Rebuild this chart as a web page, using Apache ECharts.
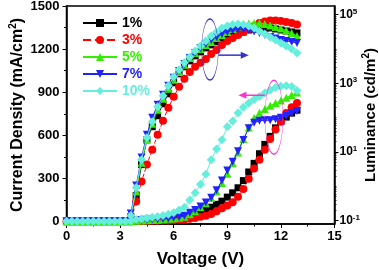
<!DOCTYPE html>
<html><head><meta charset="utf-8">
<script src="https://cdn.jsdelivr.net/npm/echarts@6/dist/echarts.min.js"></script>
<style>html,body{margin:0;padding:0;background:#fff}#c{width:379px;height:270px}</style>
</head><body><div id="c"></div>
<script>
// Voltage (V)
const xV = [0,0.3,0.6,0.9,1.2,1.5,1.8,2.1,2.4,2.7,3.0,3.3,3.6,3.9,4.2,4.5,4.8,5.1,5.4,5.7,6.0,6.3,6.6,6.9,7.2,7.5,7.8,8.1,8.4,8.7,9.0,9.3,9.6,9.9,10.2,10.5,10.8,11.1,11.4,11.7,12.0,12.3,12.6,12.9];
const seriesNames = ['1%','3%','5%','7%','10%'];
// Current density (mA/cm2), left axis
const J_1 = [1,1,1,1,1,1,1,1,1,1,1,2,2, 4,5,6,8,10,12,15,18,22,27,33,44,64,82,100,120,142,170,200,235,285,345,405,472,537,593,652,696,727,755,775];
const J_3 = [0,0,0,0,0,0,0,0,0,0,0,1,1, 2,3,4,5,6,7,8,10,12,15,19,25,33,41,52,71,93,112,135,173,226,298,370,430,500,575,640,695,756,795,825];
const J_5 = [1,1,1,1,1,1,1,1,1,1,1,2,2, 5,7,9,11,13,16,19,22,27,33,50,72,100,128,164,210,268,333,407,481,575,655,720,757,783,806,825,843,862,880,898];
const J_7 = [2,2,2,2,2,2,2,2,2,2,2,2,3, 8,10,12,14,16,19,22,26,30,40,62,80,105,133,165,217,285,355,417,490,568,650,688,702,705,705,712,722,735,752,770];
const J_10 = [3,3,3,3,3,3,3,3,3,3,3,3,4, 15,20,25,30,35,42,50,62,80,100,150,200,260,330,430,505,570,660,700,755,795,825,850,870,895,915,932,942,945,940,912];
// Luminance (cd/m2), right log axis (no emission below turn-on)
const L_1 = [null,null,null,null,null,null,null,null,null,null,null,null, 0.13,0.53,4.25,22.6,54,113,252,492,1030,1880,3000,4480,6270,8180,10700,13100,16000,18300,20900,23900,27300,31200,35600,38100,40800,40800,40800,38100,35600,33400,31200,29200];
const L_3 = [null,null,null,null,null,null,null,null,null,null,null,null, 0.12,0.36,1.36,4.25,11.6,31.6,80.7,193,403,785,1340,2140,3000,3920,5120,7160,9350,13100,17100,20900,25500,31200,38100,46700,57000,63000,67300,67300,65100,61000,57000,51500];
const L_5 = [null,null,null,null,null,null,null,null,null,null,null,null, 0.14,0.70,4.85,22.6,66,169,352,687,1260,2140,3430,5470,7650,10000,13100,16000,20900,25500,31200,38100,45100,51500,55100,57000,57000,53300,48200,43600,39400,34500,29200,23900];
const L_7 = [null,null,null,null,null,null,null,null,null,null,null,null, 0.16,1.04,6.8,31.6,98.6,235,460,840,1440,2290,3660,5470,7650,10700,14000,18300,22300,27300,31200,34500,36900,36900,35600,32300,29200,25500,22300,20200,18300,17100,16000,14900];
const L_10 = [null,null,null,null,null,null,null,null,null,null,null,null, 0.14,0.91,5.9,25.9,75.5,206,430,840,1535,2450,3920,5850,8750,12200,17100,23900,31200,40800,46700,51500,53300,51500,46700,40800,33400,27300,22300,18300,14900,12200,10000,7650];
// Tick labels
const xTicks = [0,3,6,9,12,15];
const jTicks = [0,300,600,900,1200,1500];
const jMinor = [150,450,750,1050,1350];
const lumTicks = [0.1,10,1000,100000];
const lumMinor = [0.2,0.3,0.4,0.5,0.6,0.7,0.8,0.9,1,2,3,4,5,6,7,8,9,10,20,30,40,50,60,70,80,90,100,200,300,400,500,600,700,800,900,1000,2000,3000,4000,5000,6000,7000,8000,9000,10000,20000,30000,40000,50000,60000,70000,80000,90000];

const Jdata = [J_1,J_3,J_5,J_7,J_10];
const Ldata = [L_1,L_3,L_5,L_7,L_10];
const colors = ['#000000','#ff0000','#33ee00','#2222ff','#66eedd'];
const symbols = ['rect','circle','triangle','triangle','diamond'];
const rots = [0,0,0,180,0];
const sizes = [7,8,8,8,9];
const FONT = '"Liberation Sans", Arial, sans-serif';

function pairs(arr){ const out=[]; arr.forEach((v,k)=>{ if(v!==null) out.push([xV[k], v]); }); return out; }

const series = [];
for (let i=0;i<5;i++){
  series.push({
    name: seriesNames[i], type:'line', xAxisIndex:0, yAxisIndex:1,
    data: pairs(Ldata[i]), symbol: symbols[i], symbolRotate: rots[i], symbolSize: sizes[i],
    itemStyle:{color:colors[i]}, lineStyle:{color:colors[i], width:1, type: i===1?'dashed':'solid'},
    animation:false, z: 2+i
  });
}
for (let i=0;i<5;i++){
  series.push({
    name: seriesNames[i], type:'line', xAxisIndex:0, yAxisIndex:0,
    data: pairs(Jdata[i]), symbol: symbols[i], symbolRotate: rots[i], symbolSize: sizes[i],
    itemStyle:{color:colors[i]}, lineStyle:{color:colors[i], width:1, type: i===1?'dashed':'solid'},
    animation:false, z: 2+i
  });
}

const supRich = {
  b:{fontSize:12, fontWeight:'bold', fontFamily:FONT, color:'#000'},
  s:{fontSize:8, fontWeight:'bold', fontFamily:FONT, color:'#000', verticalAlign:'top', padding:[0,0,6,0]}
};
const nameRich = {
  s:{fontSize:10, fontWeight:'bold', fontFamily:FONT, color:'#000', verticalAlign:'top', padding:[0,0,8,0]}
};

const chart = echarts.init(document.getElementById('c'), null, {renderer:'canvas'});
const axisLineStyle = {color:'#000', width:1.5};
chart.setOption({
  animation:false,
  backgroundColor:'#fff',
  grid:{left:66.5, right:44.5, top:6, bottom:46, show:true, borderColor:'#000', borderWidth:1.5,
    backgroundColor:'transparent', containLabel:false, outerBoundsMode:'none'},
  legend:{
    orient:'vertical', left:77, top:11, itemWidth:34, itemHeight:10, itemGap:3,
    selectedMode:false,
    textStyle:{fontFamily:FONT, fontWeight:'bold', fontSize:14},
    data: seriesNames.map((n,i)=>({name:n, textStyle:{color:colors[i]}}))
  },
  xAxis:[{
    type:'value', min:0, max:15, interval:3,
    axisLine:{show:true, onZero:false, lineStyle:axisLineStyle},
    axisTick:{show:true, length:4, lineStyle:{color:'#000', width:1}},
    minorTick:{show:true, splitNumber:2, length:2.5, lineStyle:{color:'#000', width:1}},
    splitLine:{show:false},
    axisLabel:{fontFamily:FONT, fontWeight:'bold', fontSize:13, color:'#000', margin:6,
      customValues: xTicks, formatter: v => String(v)},
    name:'Voltage (V)', nameLocation:'middle', nameGap:27, nameMoveOverlap:false,
    nameTextStyle:{fontFamily:FONT, fontWeight:'bold', fontSize:17, color:'#000'}
  }],
  yAxis:[{
    type:'value', min:-17, max:1500, position:'left',
    axisLine:{show:true, lineStyle:axisLineStyle},
    axisTick:{show:true, length:4, customValues: jTicks, lineStyle:{color:'#000', width:1}},
    splitLine:{show:false},
    axisLabel:{fontFamily:FONT, fontWeight:'bold', fontSize:13, color:'#000', margin:7,
      customValues: jTicks, formatter: v => String(v)},
    name:'Current Density (mA/cm{s|2})', nameLocation:'middle', nameGap:40, nameMoveOverlap:false,
    nameTextStyle:{fontFamily:FONT, fontWeight:'bold', fontSize:16, color:'#000', rich:nameRich}
  },{
    type:'log', logBase:10, min:0.079, max:178000, position:'right',
    axisLine:{show:true, lineStyle:axisLineStyle},
    axisTick:{show:true, length:4, customValues: lumTicks, lineStyle:{color:'#000', width:1}},
    splitLine:{show:false},
    axisLabel:{margin:5, customValues: lumTicks,
      formatter: v => '{b|10}{s|' + Math.round(Math.log10(v)) + '}', rich: supRich},
    name:'Luminance (cd/m{s|2})', nameLocation:'middle', nameGap:27, nameMoveOverlap:false,
    nameTextStyle:{fontFamily:FONT, fontWeight:'bold', fontSize:15, color:'#000', rich:nameRich}
  },{
    type:'value', min:-17, max:1500, position:'left',
    axisLine:{show:false}, splitLine:{show:false}, axisLabel:{show:false},
    axisTick:{show:true, length:2.5, customValues: jMinor, lineStyle:{color:'#000', width:1}}
  },{
    type:'log', logBase:10, min:0.079, max:178000, position:'right',
    axisLine:{show:false}, splitLine:{show:false}, axisLabel:{show:false},
    axisTick:{show:true, length:2, customValues: lumMinor, lineStyle:{color:'#000', width:0.8}}
  }],
  series: series
});

// annotations (ellipses + arrows), placed in data coordinates of the left axis
function px(x,y){ return chart.convertToPixel({xAxisIndex:0, yAxisIndex:0}, [x,y]); }
function ellipse(c, rx, ry, color){
  return {type:'circle', x:c[0], y:c[1], scaleX: rx/ry, scaleY:1, shape:{cx:0, cy:0, r:ry},
    style:{fill:'none', stroke:color, lineWidth:1.5, strokeNoScale:true}, z:20};
}
function arrow(p0, p1, color){
  const dir = p1[0] > p0[0] ? 1 : -1;
  const hx = p1[0], hy = p1[1];
  return [
    {type:'line', shape:{x1:p0[0], y1:p0[1], x2:hx - dir*5, y2:hy}, style:{stroke:color, lineWidth:1.5}, z:20},
    {type:'polygon', shape:{points:[[hx,hy],[hx-dir*8,hy-3.5],[hx-dir*8,hy+3.5]]}, style:{fill:color}, z:20}
  ];
}
const blue = '#3333cc', mag = '#ff33cc';
const g = [];
g.push(ellipse(px(8.03,1197), 8.3, 30.5, blue));
g.push(...arrow(px(8.5,1158), px(10.2,1158), blue));
g.push(ellipse(px(11.61,726), 9, 37, mag));
g.push(...arrow(px(11.1,879), px(9.62,879), mag));
chart.setOption({graphic: g});
</script>
</body></html>
